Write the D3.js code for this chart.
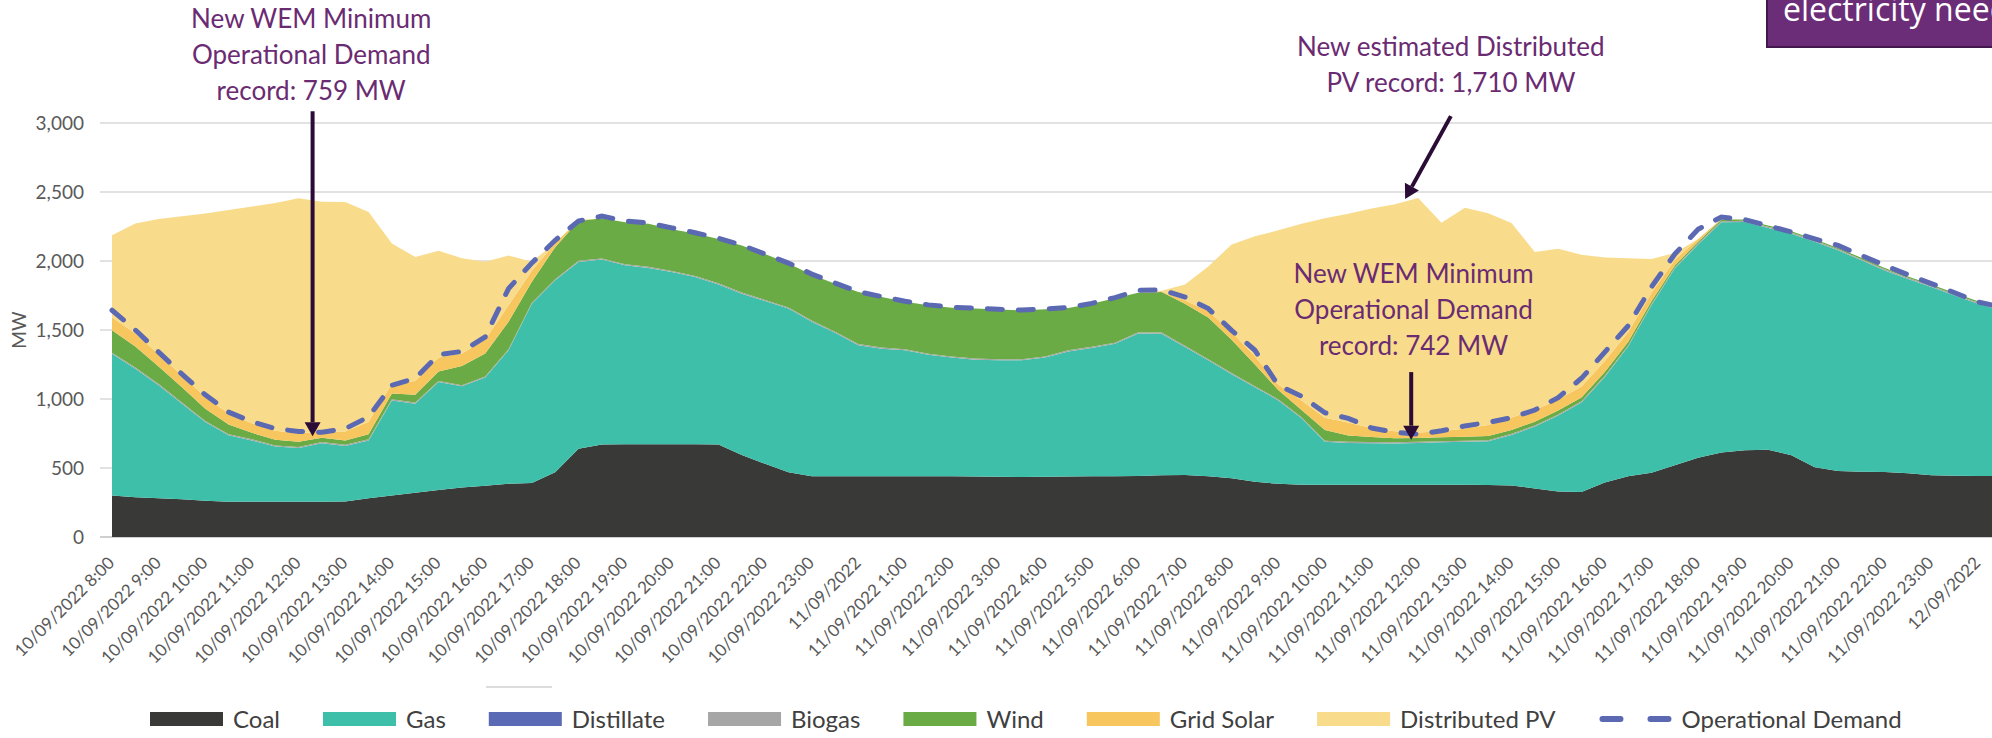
<!DOCTYPE html>
<html>
<head>
<meta charset="utf-8">
<script src="https://cdnjs.cloudflare.com/ajax/libs/d3/7.8.5/d3.min.js"></script>
<style>
  body { margin: 0; background: #fff; overflow: hidden; }
  svg { display: block; font-family: Lato, "Open Sans", sans-serif; }
</style>
</head>
<body>
<script>
// half-hourly intervals from 10/09/2022 8:00 (hour 0)
var halfHours = d3.range(0, 41, 0.5);

var tickLabels = ["10/09/2022 8:00","10/09/2022 9:00","10/09/2022 10:00","10/09/2022 11:00","10/09/2022 12:00",
  "10/09/2022 13:00","10/09/2022 14:00","10/09/2022 15:00","10/09/2022 16:00","10/09/2022 17:00",
  "10/09/2022 18:00","10/09/2022 19:00","10/09/2022 20:00","10/09/2022 21:00","10/09/2022 22:00",
  "10/09/2022 23:00","11/09/2022","11/09/2022 1:00","11/09/2022 2:00","11/09/2022 3:00",
  "11/09/2022 4:00","11/09/2022 5:00","11/09/2022 6:00","11/09/2022 7:00","11/09/2022 8:00",
  "11/09/2022 9:00","11/09/2022 10:00","11/09/2022 11:00","11/09/2022 12:00","11/09/2022 13:00",
  "11/09/2022 14:00","11/09/2022 15:00","11/09/2022 16:00","11/09/2022 17:00","11/09/2022 18:00",
  "11/09/2022 19:00","11/09/2022 20:00","11/09/2022 21:00","11/09/2022 22:00","11/09/2022 23:00",
  "12/09/2022"];

var yTicks = [0, 500, 1000, 1500, 2000, 2500, 3000];

var coal = [300,288,280,274,262,255,255,255,255,255,
  258,280,300,320,340,358,372,385,392,470,
  640,670,672,672,672,672,670,595,530,470,
  440,440,440,440,440,440,440,438,436,435,
  436,438,440,440,442,448,450,440,425,400,
  385,378,378,378,378,378,378,378,378,376,
  374,352,330,326,395,440,465,520,575,612,
  628,633,592,505,478,472,471,462,447,444,
  442,442];

var gas = [1028,932,820,692,571,482,445,400,390,425,
  402,420,690,646,783,734,783,968,1298,1390,
  1353,1340,1297,1278,1248,1212,1160,1168,1180,1185,
  1120,1040,950,925,913,880,860,847,844,845,
  864,907,930,960,1033,1025,927,840,755,685,
  605,482,312,304,302,300,304,308,312,317,
  366,448,550,649,765,940,1215,1425,1545,1668,
  1655,1607,1606,1635,1599,1533,1461,1408,1365,1306,
  1249,1200];

var distillate = [0,0,0,0,0,0,0,0,0,0, 0,0,0,0,0,0,0,0,0,0,
  0,0,0,0,0,0,0,0,0,0, 0,0,0,0,0,0,0,0,0,0,
  0,0,0,0,0,0,0,0,0,0, 0,0,0,0,0,0,0,0,0,0,
  0,0,0,0,0,0,0,0,0,0, 0,0,0,0,0,0,0,0,0,0, 0,0];

var biogas = [8,8,8,8,8,8,8,8,8,8, 8,8,8,8,8,8,8,8,8,8,
  8,8,8,8,8,8,8,8,8,8, 8,8,8,8,8,8,8,8,8,8,
  8,8,8,8,8,8,8,8,8,8, 8,8,8,8,8,8,8,8,8,8,
  8,8,8,8,8,8,8,8,8,8, 8,8,8,8,8,8,8,8,8,8, 8,8];

var wind = [162,152,127,111,89,70,47,42,37,32,
  32,37,42,56,69,140,167,199,152,232,
  289,292,303,312,302,308,322,342,332,318,
  332,348,377,366,344,351,354,362,360,354,
  342,307,312,322,287,294,305,302,242,157,
  67,52,77,45,37,30,28,28,28,30,
  28,28,28,28,28,25,20,15,12,12,
  10,10,10,10,10,10,10,10,10,10,
  10,10];

var gridSolar = [95,95,90,85,85,80,70,65,60,45,
  65,90,70,100,100,90,100,120,80,30,
  5,0,0,0,0,0,0,0,0,0,
  0,0,0,0,0,0,0,0,0,0,
  0,0,0,0,0,5,25,45,55,60,
  40,70,90,95,65,50,40,45,60,80,
  90,85,80,80,80,70,60,40,20,5,
  0,0,0,0,0,0,0,0,0,0,
  0,0];

var distributedPV = [593,796,980,1154,1330,1475,1570,1650,1705,1665,
  1663,1520,1016,899,775,690,565,360,65,0,
  0,0,0,0,0,0,0,0,0,0,
  0,0,0,0,0,0,0,0,0,0,
  0,0,0,0,0,5,115,325,635,870,
  1117,1280,1445,1513,1590,1645,1698,1510,1599,1535,
  1410,1145,1092,955,750,537,247,50,0,0,
  0,0,0,0,0,0,0,0,0,0,
  0,0];

var operationalDemand = [1643,1500,1340,1180,1030,905,835,785,765,759,
  785,870,1100,1150,1320,1345,1450,1800,1986,2150,
  2290,2325,2290,2275,2240,2205,2165,2115,2050,1985,
  1905,1840,1778,1742,1708,1682,1665,1658,1650,1645,
  1652,1663,1693,1735,1787,1790,1739,1655,1498,1353,
  1100,1020,900,860,790,758,745,770,805,830,
  865,920,1010,1150,1340,1530,1812,2050,2230,2319,
  2300,2255,2210,2160,2113,2040,1969,1900,1836,1770,
  1703,1667];

var seriesNames = ["Coal","Gas","Distillate","Biogas","Wind","Grid Solar","Distributed PV"];
var seriesValues = [coal, gas, distillate, biogas, wind, gridSolar, distributedPV];
var seriesColors = ["#393937","#3ebfaa","#5a6ab4","#a6a6a6","#6aab45","#f8c65e","#f8dc8c"];
var demandColor = "#5b68b2";

var notes = [
  {lines: ["New WEM Minimum","Operational Demand","record: 759 MW"], textHour: 4.27, textY: 28, from: [4.3, 3085], to: [4.3, 730]},
  {lines: ["New estimated Distributed","PV record: 1,710 MW"], textHour: 28.7, textY: 56, from: [28.7, 3050], to: [27.72, 2450]},
  {lines: ["New WEM Minimum","Operational Demand","record: 742 MW"], textHour: 27.9, textY: 283, from: [27.85, 1195], to: [27.85, 705]}
];

var width = 1992, height = 738;

var svg = d3.select("body").append("svg")
  .attr("width", width)
  .attr("height", height);

var x = d3.scaleLinear().domain([0, 40]).range([112, 1978]);
var y = d3.scaleLinear().domain([0, 3000]).range([537, 123]);

// gridlines
svg.append("g").selectAll("line")
  .data(yTicks)
  .enter().append("line")
  .attr("x1", 100).attr("x2", width)
  .attr("y1", function(d) { return y(d); })
  .attr("y2", function(d) { return y(d); })
  .attr("stroke", function(d) { return d === 0 ? "#bfbfbf" : "#d9d9d9"; })
  .attr("stroke-width", 1.5);

// y labels
svg.append("g").selectAll("text")
  .data(yTicks)
  .enter().append("text")
  .attr("x", 84)
  .attr("y", function(d) { return y(d); })
  .attr("dy", "0.35em")
  .attr("text-anchor", "end")
  .attr("fill", "#595959")
  .style("font-size", "19px")
  .text(d3.format(","));

svg.append("text")
  .attr("transform", "translate(26," + y(1500) + ") rotate(-90)")
  .attr("text-anchor", "middle")
  .attr("fill", "#595959")
  .style("font-size", "19px")
  .text("MW");

// stacked areas
var rows = halfHours.map(function(h, i) {
  var r = {hour: h};
  seriesNames.forEach(function(k, j) { r[k] = seriesValues[j][i]; });
  return r;
});
var stacked = d3.stack().keys(seriesNames)(rows);

var area = d3.area()
  .x(function(d) { return x(d.data.hour); })
  .y0(function(d) { return y(d[0]); })
  .y1(function(d) { return y(d[1]); });

svg.append("g").selectAll("path")
  .data(stacked)
  .enter().append("path")
  .attr("d", area)
  .attr("fill", function(d, i) { return seriesColors[i]; });

// operational demand
var demandLine = d3.line()
  .x(function(d, i) { return x(halfHours[i]); })
  .y(function(d) { return y(d); });

svg.append("path")
  .datum(operationalDemand)
  .attr("d", demandLine)
  .attr("fill", "none")
  .attr("stroke", demandColor)
  .attr("stroke-width", 5)
  .attr("stroke-linecap", "round")
  .attr("stroke-dasharray", "15 16");

// x axis labels
var xAxis = d3.axisBottom(x)
  .tickValues(d3.range(0, 41))
  .tickSize(0)
  .tickFormat(function(d) { return tickLabels[d]; });

var gx = svg.append("g")
  .attr("transform", "translate(0,537)")
  .call(xAxis);
gx.select(".domain").remove();
gx.selectAll("text")
  .attr("fill", "#595959")
  .style("font-size", "17px")
  .style("font-family", "Lato, sans-serif")
  .attr("text-anchor", "end")
  .attr("y", 0).attr("dy", 0)
  .attr("transform", "translate(3,27) rotate(-45)");

// stray grey mark under the axis labels
svg.append("line")
  .attr("x1", 486).attr("x2", 552)
  .attr("y1", 687).attr("y2", 687)
  .attr("stroke", "#dcdcdc").attr("stroke-width", 2);

// annotations
var noteG = svg.append("g");
notes.forEach(function(n) {
  var x1 = x(n.from[0]), y1 = y(n.from[1]);
  var x2 = x(n.to[0]), y2 = y(n.to[1]);
  var dx = x2 - x1, dy = y2 - y1, len = Math.sqrt(dx * dx + dy * dy);
  var ux = dx / len, uy = dy / len;
  var headLen = 14, headW = 8;
  noteG.append("line")
    .attr("x1", x1).attr("y1", y1)
    .attr("x2", x2 - ux * headLen).attr("y2", y2 - uy * headLen)
    .attr("stroke", "#2b0c36").attr("stroke-width", 4);
  var bx = x2 - ux * headLen, by = y2 - uy * headLen;
  noteG.append("path")
    .attr("d", "M" + x2 + "," + y2 +
      "L" + (bx - uy * headW) + "," + (by + ux * headW) +
      "L" + (bx + uy * headW) + "," + (by - ux * headW) + "Z")
    .attr("fill", "#2b0c36");
  var t = noteG.append("text")
    .attr("text-anchor", "middle")
    .attr("fill", "#6a2b72")
    .style("font-size", "26px");
  n.lines.forEach(function(l, i) {
    t.append("tspan")
      .attr("x", x(n.textHour))
      .attr("y", n.textY + i * 36)
      .text(l);
  });
});

// purple callout box at the top right (cut by the frame, as in the source)
svg.append("rect")
  .attr("x", 1767).attr("y", -4)
  .attr("width", 240).attr("height", 51)
  .attr("fill", "#6b2d77")
  .attr("stroke", "#43184e").attr("stroke-width", 2);
svg.append("text")
  .attr("x", 1783).attr("y", 21)
  .attr("fill", "#ffffff")
  .style("font-size", "32px")
  .style("font-family", "'Open Sans', sans-serif")
  .text("electricity needs");

// legend
var legendItems = seriesNames.concat(["Operational Demand"]);
var legend = svg.append("g");
var lx = 150;
legendItems.forEach(function(name, i) {
  if (i < seriesNames.length) {
    legend.append("rect")
      .attr("x", lx).attr("y", 712)
      .attr("width", 73).attr("height", 14)
      .attr("fill", seriesColors[i]);
  } else {
    legend.append("line")
      .attr("x1", lx + 4).attr("x2", lx + 70)
      .attr("y1", 719).attr("y2", 719)
      .attr("stroke", demandColor)
      .attr("stroke-width", 6)
      .attr("stroke-linecap", "round")
      .attr("stroke-dasharray", "18 30");
  }
  var t = legend.append("text")
    .attr("x", lx + 83).attr("y", 728)
    .attr("fill", "#404040")
    .style("font-size", "24px")
    .text(name);
  lx += 83 + t.node().getComputedTextLength() + 43;
});
</script>
</body>
</html>
